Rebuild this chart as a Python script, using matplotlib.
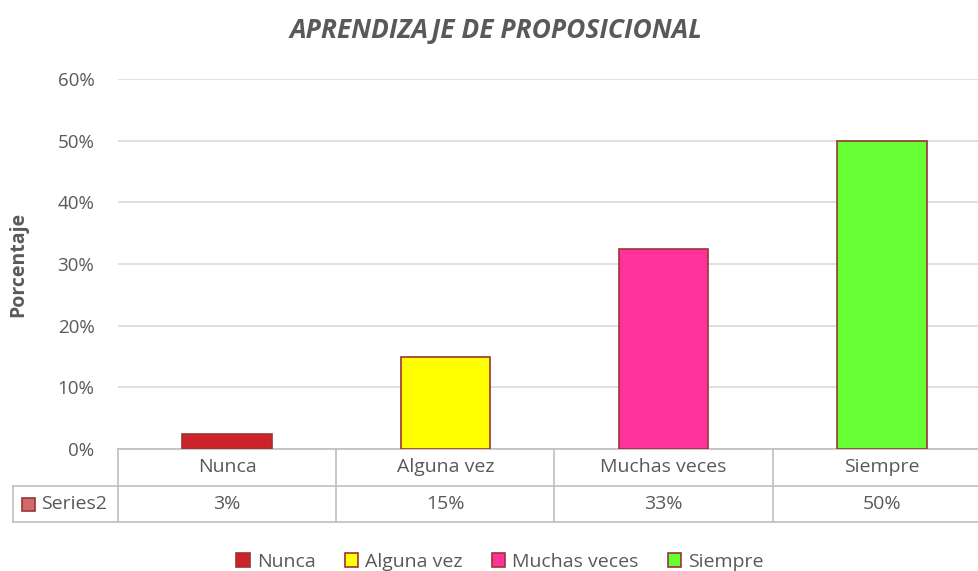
import matplotlib
matplotlib.use("Agg")
import matplotlib.pyplot as plt
from matplotlib.patches import Rectangle
from matplotlib.lines import Line2D

# Data
categories = ["Nunca", "Alguna vez", "Muchas veces", "Siempre"]
values = [0.025, 0.15, 0.325, 0.50]
table_labels = ["3%", "15%", "33%", "50%"]
series_name = "Series2"
colors = ["#CC2229", "#FFFF00", "#FF3399", "#66FF33"]
edge = "#9B3535"
grey = "#595959"

plt.rcParams['font.family'] = ['Open Sans', 'DejaVu Sans']

W, H = 979, 571
fig = plt.figure(figsize=(W / 100, H / 100), dpi=100)
# plot area in pixels: left 118, right 991 (cropped), top 79, bottom 449
ax = fig.add_axes([118 / W, 1 - 449 / H, (991 - 118) / W, (449 - 79) / H])

x = range(len(categories))
ax.bar(x, values, width=0.41, color=colors, edgecolor=edge, linewidth=1.2, zorder=3)
ax.set_xlim(-0.5, len(categories) - 0.5)
ax.set_ylim(0, 0.6)
ax.set_yticks([0, 0.1, 0.2, 0.3, 0.4, 0.5, 0.6])
ax.set_yticklabels(["0%", "10%", "20%", "30%", "40%", "50%", "60%"], color=grey, fontsize=13.5)
ax.tick_params(axis='y', length=0, pad=17)
ax.set_xticks([])
ax.grid(axis='y', color="#D9D9D9", linewidth=1.2, zorder=0)
for s in ["top", "right", "left"]:
    ax.spines[s].set_visible(False)
ax.spines["bottom"].set_color("#BFBFBF")
ax.spines["bottom"].set_linewidth(1.2)

ax.set_ylabel("Porcentaje", color=grey, fontsize=14, fontweight='bold')
ax.yaxis.set_label_coords(-0.103, 0.5)

fig.text(496 / W, 1 - 30 / H, "APRENDIZAJE DE PROPOSICIONAL", ha='center', va='center',
         fontsize=19, fontweight='bold', fontstyle='italic', color=grey)

# data table below the axis
tr = ax.transAxes
ah = 449 - 79
y1 = -(486 - 449) / ah
y2 = -(522 - 449) / ah
xl = (13 - 118) / (991 - 118)
line_kw = dict(transform=tr, color="#BFBFBF", linewidth=1.2, clip_on=False)
n = len(categories)
for i in range(n + 1):
    xv = i / n
    ax.add_line(Line2D([xv, xv], [0, y2], **line_kw))
ax.add_line(Line2D([xl, 1], [y1, y1], **line_kw))
ax.add_line(Line2D([xl, 1], [y2, y2], **line_kw))
ax.add_line(Line2D([xl, xl], [y1, y2], **line_kw))
for i, (c, lab) in enumerate(zip(categories, table_labels)):
    xc = (i + 0.5) / n
    ax.text(xc, y1 / 2, c, transform=tr, ha='center', va='center', fontsize=14, color=grey)
    ax.text(xc, (y1 + y2) / 2, lab, transform=tr, ha='center', va='center', fontsize=14, color=grey)
fig.patches.append(Rectangle((22 / W, 1 - 511 / H), 13 / W, 13 / H, transform=fig.transFigure,
                             facecolor="#D06A6A", edgecolor=edge, linewidth=1.2))
fig.text(41 / W, 1 - 504 / H, series_name, ha='left', va='center', fontsize=14, color=grey)

# legend
handles = [Rectangle((0, 0), 1, 1, facecolor=c, edgecolor=edge, linewidth=1.2) for c in colors]
fig.legend(handles, categories, loc='center', bbox_to_anchor=(500 / W, 1 - 562 / H), ncol=4,
           frameon=False, fontsize=14, labelcolor=grey, handlelength=0.7, handleheight=0.7,
           handletextpad=0.35, columnspacing=1.5)

fig.savefig("out.png", dpi=100, facecolor="white")
